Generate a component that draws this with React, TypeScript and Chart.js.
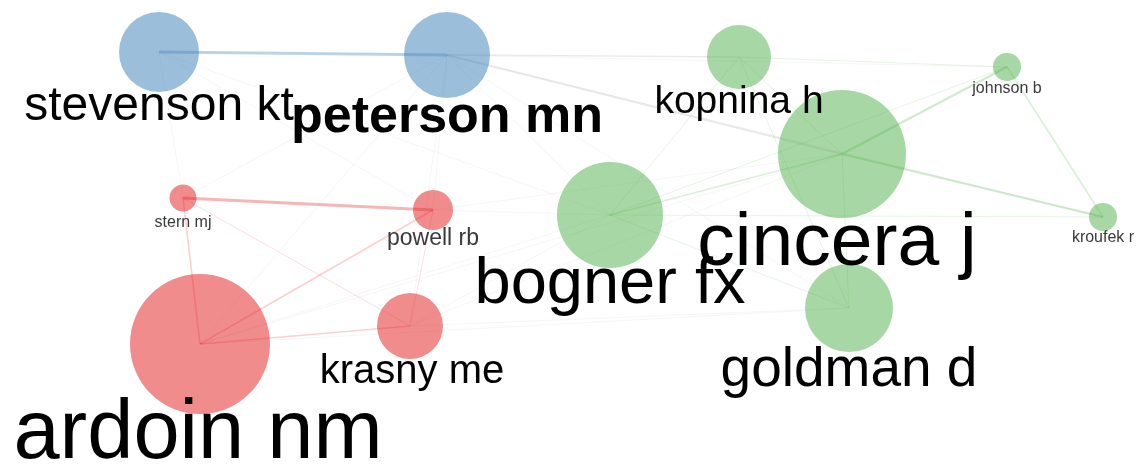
import React, { useEffect, useRef } from "react";
import { Chart, registerables } from "chart.js";

Chart.register(...registerables);

// ---- data (layout coordinates of the co-authorship network) ----
const nodeNames = [
  "stevenson kt", "peterson mn", "kopnina h", "johnson b", "cincera j", "kroufek r",
  "bogner fx", "goldman d", "stern mj", "powell rb", "krasny me", "ardoin nm",
];
const nodeX = [159, 447, 739, 1007, 842, 1103, 610, 849, 183, 433, 410, 200];
const nodeY = [52, 55, 57, 67, 154, 217, 215, 308, 198, 210, 326, 344];
const nodeSize = [40, 43, 32, 14, 64, 14, 53, 44, 13.5, 20, 33, 70];
const nodeCluster = [0, 0, 2, 2, 2, 2, 2, 2, 1, 1, 1, 1];
const labelSize = [48, 52, 39, 16, 75, 16, 65, 55, 16, 23, 40, 83];
const labelBold = [false, true, false, false, false, false, false, false, false, false, false, false];
const labelDx = [0, 0, 0, 0, -5, 0, 0, 0, 0, 0, 2, -2];
const labelDy = [68, 77, 56, 26, 111, 25, 88, 78, 29, 35, 57, 114];

const edgeFrom = [
  "stevenson kt", "stevenson kt", "stevenson kt", "stevenson kt", "stevenson kt",
  "peterson mn", "peterson mn", "peterson mn", "peterson mn", "peterson mn",
  "peterson mn", "peterson mn", "peterson mn", "peterson mn", "peterson mn",
  "kopnina h", "kopnina h", "kopnina h", "kopnina h",
  "cincera j", "cincera j", "cincera j", "cincera j",
  "johnson b", "bogner fx", "bogner fx", "bogner fx",
  "stern mj", "stern mj", "stern mj",
  "powell rb", "powell rb", "ardoin nm", "ardoin nm", "ardoin nm", "ardoin nm",
  "krasny me", "krasny me", "krasny me", "powell rb", "powell rb",
];
const edgeTo = [
  "peterson mn", "stern mj", "kopnina h", "bogner fx", "powell rb",
  "kopnina h", "johnson b", "cincera j", "stern mj", "powell rb",
  "krasny me", "ardoin nm", "bogner fx", "goldman d", "kroufek r",
  "cincera j", "bogner fx", "johnson b", "goldman d",
  "johnson b", "kroufek r", "bogner fx", "goldman d",
  "kroufek r", "johnson b", "goldman d", "kroufek r",
  "powell rb", "ardoin nm", "krasny me",
  "ardoin nm", "krasny me", "krasny me", "bogner fx", "cincera j", "goldman d",
  "bogner fx", "cincera j", "goldman d", "bogner fx", "cincera j",
];
const edgeWeight = [
  4, 1, 1, 1, 1,
  2, 1, 3, 1, 1,
  1, 1, 1, 1, 1,
  1, 1, 1, 1,
  3, 3, 2, 1,
  2, 1, 1, 1,
  4, 2, 1,
  2, 1, 2, 1, 1, 1,
  1, 1, 1, 1, 1,
];

const clusterRGB = ["55,126,184", "228,26,28", "77,175,74"];
const FONT = '"Liberation Sans", Arial, Helvetica, sans-serif';

export default function App() {
  const ref = useRef<HTMLCanvasElement | null>(null);

  useEffect(() => {
    if (!ref.current) return;
    const idx = (n: string) => nodeNames.indexOf(n);

    const edgeSets = edgeFrom.map((f, i) => {
      const a = idx(f);
      const b = idx(edgeTo[i]);
      const w = edgeWeight[i];
      const same = nodeCluster[a] === nodeCluster[b];
      const color = same
        ? `rgba(${clusterRGB[nodeCluster[a]]},${0.08 + 0.06 * w})`
        : `rgba(150,150,150,${0.04 + 0.05 * w})`;
      return {
        type: "scatter" as const,
        data: [
          { x: nodeX[a], y: nodeY[a] },
          { x: nodeX[b], y: nodeY[b] },
        ],
        showLine: true,
        borderColor: color,
        borderWidth: 0.4 + 0.6 * w,
        pointRadius: 0,
        pointHoverRadius: 0,
        order: 2,
        clip: false as any,
      };
    });

    const nodeSet = {
      type: "bubble" as const,
      data: nodeNames.map((_, i) => ({ x: nodeX[i], y: nodeY[i], r: nodeSize[i] })),
      backgroundColor: nodeNames.map((_, i) => `rgba(${clusterRGB[nodeCluster[i]]},0.5)`),
      borderWidth: 0,
      hoverRadius: 0,
      order: 1,
      clip: false as any,
    };

    const labelPlugin = {
      id: "nodeLabels",
      afterDatasetsDraw(chart: any) {
        const ctx = chart.ctx;
        const xs = chart.scales.x;
        const ys = chart.scales.y;
        ctx.save();
        ctx.textAlign = "center";
        ctx.textBaseline = "alphabetic";
        nodeNames.forEach((name, i) => {
          const px = xs.getPixelForValue(nodeX[i]) + labelDx[i];
          const py = ys.getPixelForValue(nodeY[i]) + labelDy[i];
          ctx.font = `${labelBold[i] ? "bold " : ""}${labelSize[i]}px ${FONT}`;
          ctx.fillStyle = labelSize[i] < 30 ? "#3a3a3a" : "#000000";
          ctx.fillText(name, px, py);
        });
        ctx.restore();
      },
    };

    const chart = new Chart(ref.current, {
      type: "bubble",
      data: { datasets: [nodeSet as any, ...(edgeSets as any[])] },
      options: {
        animation: false,
        responsive: true,
        maintainAspectRatio: false,
        layout: { padding: 0, autoPadding: false },
        plugins: { legend: { display: false }, tooltip: { enabled: false } },
        events: [],
        scales: {
          x: { type: "linear", min: 0, max: 1141, display: false },
          y: { type: "linear", min: 0, max: 466, reverse: true, display: false },
        },
      },
      plugins: [labelPlugin],
    });
    return () => chart.destroy();
  }, []);

  return (
    <div style={{ position: "fixed", left: 0, top: 0, width: 1141, height: 466, background: "#fff" }}>
      <canvas ref={ref} />
    </div>
  );
}
